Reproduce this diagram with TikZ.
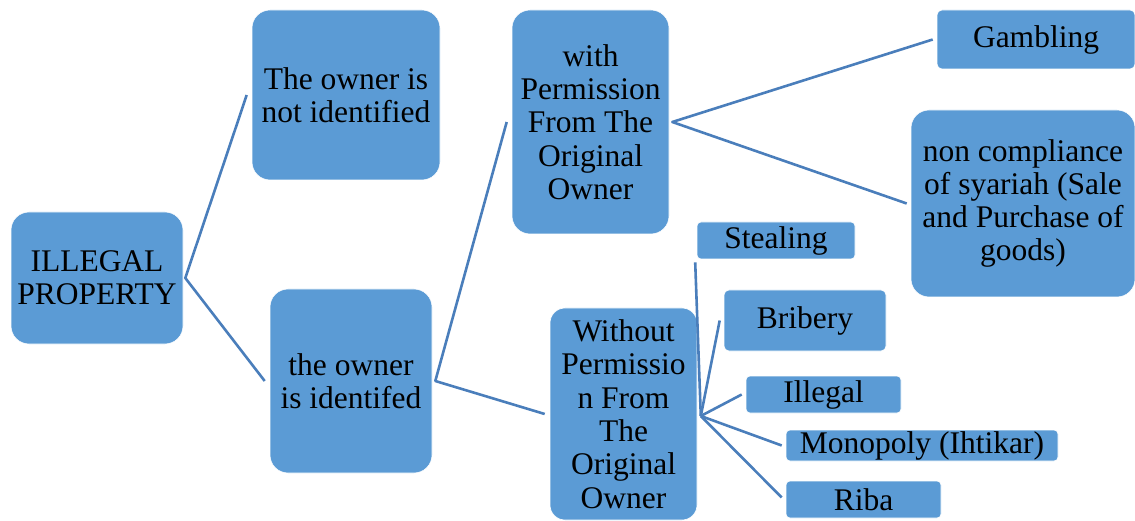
\documentclass[tikz,border=0pt]{standalone}
\usepackage{fontspec}
\setmainfont{Liberation Serif}
\definecolor{boxblue}{HTML}{5B9BD5}
\definecolor{lineblue}{HTML}{4A7EBB}
\newcommand{\boxfont}{\fontsize{31.5}{33.3}\selectfont}

\begin{document}
\begin{tikzpicture}[ x = 1pt, y = -1pt,
                     every node/.style={fill=boxblue,draw=white,line width=0.6pt,
                                        inner sep=0pt,align=center,font=\boxfont},
                     bigbox/.style={rounded corners=18pt},
                     smallbox/.style={rounded corners=4pt},
                     conn/.style={draw=lineblue,line width=2.6pt,line join=round},
                   ]
 \useasboundingbox (0,0) rectangle (1135,521);

 \draw (97,278)     node[bigbox,minimum width=172pt,minimum height=132pt] (root)
                    {ILLEGAL\\PROPERTY};

 \draw (346,95)     node[bigbox,minimum width=188pt,minimum height=170pt] (notid)
                    {The owner is\\not identified};

 \draw (351,381)    node[bigbox,minimum width=162pt,minimum height=184pt] (isid)
                    {the owner\\is identifed};

 \draw (590.5,122)  node[bigbox,minimum width=157pt,minimum height=224pt] (withp)
                    {with\\Permission\\From The\\Original\\Owner};

 \draw (623.5,414)  node[rounded corners=15pt,minimum width=147pt,minimum height=212pt] (withoutp)
                    {Without\\Permissio\\n From\\The\\Original\\Owner};

 \draw (1036,39.5)  node[smallbox,rounded corners=5pt,minimum width=198pt,minimum height=59pt] (gambling)
                    {Gambling};

 \draw (1023,203.5) node[bigbox,minimum width=224pt,minimum height=187pt] (noncomp)
                    {non compliance\\of syariah (Sale\\and Purchase of\\goods)};

 \draw (776,240.5)  node[smallbox,minimum width=158pt,minimum height=37pt] (stealing)
                    {Stealing};

 \draw (805,320.5)  node[smallbox,rounded corners=5pt,minimum width=162pt,minimum height=61pt] (bribery)
                    {Bribery};

 \draw (823.5,394.5) node[smallbox,minimum width=155pt,minimum height=37pt] (illegal)
                    {Illegal};

 \draw (922,445.5)  node[smallbox,minimum width=272pt,minimum height=31pt] (monopoly)
                    {Monopoly (Ihtikar)};

 \draw (863.5,499.5) node[smallbox,minimum width=155pt,minimum height=37pt] (riba)
                    {Riba};

 \coordinate (r0) at ([xshift=2pt]root.east);
 \coordinate (i0) at ([xshift=3pt]isid.east);
 \coordinate (w0) at ([xshift=3pt]withp.east);
 \coordinate (o0) at ([xshift=3.5pt,yshift=-2pt]withoutp.east);

 \draw[conn] ([xshift=-5pt]notid.west) -- (r0) -- ([xshift=-5pt]isid.west);
 \draw[conn] ([xshift=-5pt]withp.west) -- (i0) -- ([xshift=-5pt]withoutp.west);
 \draw[conn] ([xshift=-4pt]gambling.west) -- (w0) -- ([xshift=-4pt]noncomp.west);

 \draw[conn] (o0) -- ([xshift=-1.5pt,yshift=-3pt]stealing.south west);
 \draw[conn] (o0) -- ([xshift=-4pt]bribery.west);
 \draw[conn] (o0) -- ([xshift=-4pt]illegal.west);
 \draw[conn] (o0) -- ([xshift=-4pt]monopoly.west);
 \draw[conn] (o0) -- ([xshift=-4pt,yshift=2pt]riba.west);

\end{tikzpicture}
\end{document}
